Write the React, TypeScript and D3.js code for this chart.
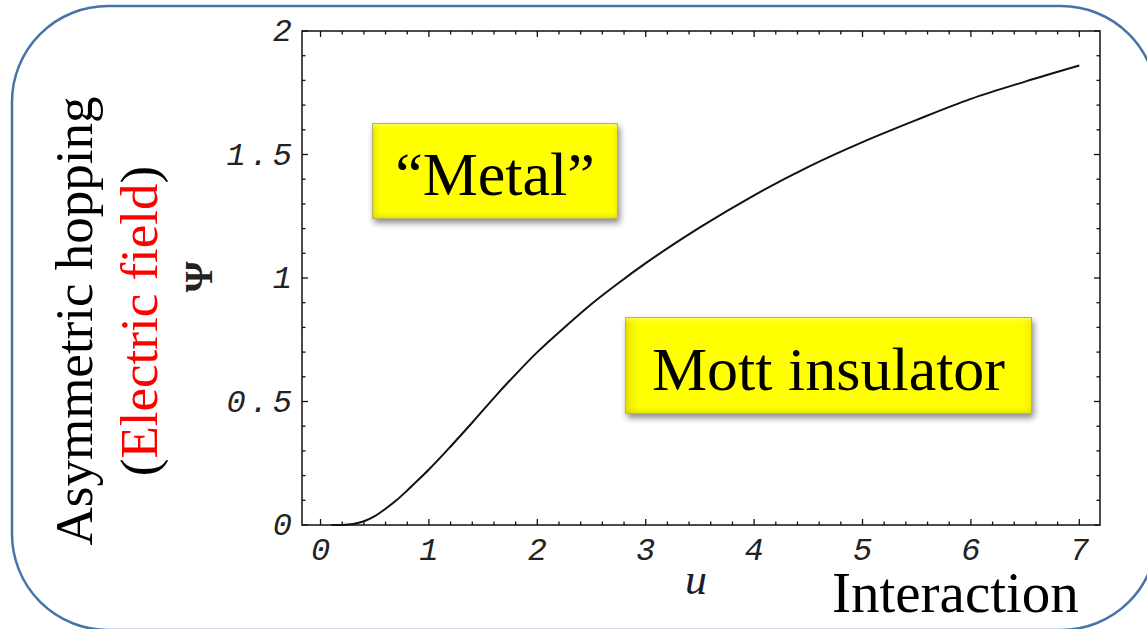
import React from 'react';
import * as d3 from 'd3';

// Ψ(u) curve: interaction strength u vs asymmetric hopping Ψ
const uValues = [0.1, 0.2, 0.3, 0.4, 0.5, 0.6, 0.7, 0.8, 0.9, 1.0, 1.2, 1.4, 1.6, 1.8, 2.0, 2.25, 2.5, 2.75, 3.0, 3.5, 4.0, 4.5, 5.0, 5.5, 6.0, 6.5, 7.0];
const psiValues = [0, 0.0005, 0.004, 0.015, 0.036, 0.066, 0.1, 0.14, 0.182, 0.225, 0.318, 0.415, 0.515, 0.61, 0.7, 0.8, 0.895, 0.98, 1.06, 1.205, 1.335, 1.45, 1.55, 1.64, 1.725, 1.795, 1.86];

const xMajorTicks = [0, 1, 2, 3, 4, 5, 6, 7];
const xTickLabels = ['0', '1', '2', '3', '4', '5', '6', '7'];
const yMajorTicks = [0, 0.5, 1, 1.5, 2];
const yTickLabels = ['0', '0.5', '1', '1.5', '2'];

const W = 1147;
const H = 629;
const frame = { left: 302, right: 1100, top: 31, bottom: 525 };

const tickFont = {
  fontFamily: '"Liberation Mono", "DejaVu Sans Mono", monospace',
  fontStyle: 'italic' as const,
  fontSize: 32,
  letterSpacing: 4,
  fill: '#222',
};

const serif = '"Liberation Serif", "Times New Roman", serif';

function YellowBox({ x, y, w, h, label, fontSize, baseline }: { x: number; y: number; w: number; h: number; label: string; fontSize: number; baseline: number }) {
  return (
    <g>
      <rect x={x} y={y} width={w} height={h} fill="#ffff00" filter="url(#boxShadow)" />
      <rect x={x} y={y} width={w} height={h} fill="url(#bevelH)" />
      <rect x={x} y={y} width={w} height={h} fill="url(#bevelV)" />
      <rect x={x + 0.5} y={y + 0.5} width={w - 1} height={h - 1} fill="none" stroke="#b4b46a" strokeWidth={1} />
      <text x={x + w / 2} y={y + baseline} textAnchor="middle" fontFamily={serif} fontSize={fontSize} fill="#000">
        {label}
      </text>
    </g>
  );
}

export default function App() {
  const x = d3.scaleLinear().domain([-0.171, 7.191]).range([frame.left, frame.right]);
  const y = d3.scaleLinear().domain([0, 2]).range([frame.bottom, frame.top]);

  const near = (a: number, list: number[]) => list.some((m) => Math.abs(m - a) < 1e-6);
  const xMinor = d3.range(0, 36).map((i) => i * 0.2).filter((v) => v <= 7.0001 && !near(v, xMajorTicks));
  const yMinor = d3.range(0, 21).map((i) => i * 0.1).filter((v) => !near(v, yMajorTicks));

  const line = d3
    .line<number>()
    .x((_, i) => x(uValues[i]))
    .y((d) => y(d))
    .curve(d3.curveMonotoneX);

  const major = 6;
  const minor = 3.5;
  const tickStroke = { stroke: '#111', strokeWidth: 1.3 };

  return (
    <svg width={W} height={H} style={{ position: 'absolute', left: 0, top: 0, background: '#fff' }}>
      <defs>
        <filter id="boxShadow" x="-10%" y="-20%" width="125%" height="150%">
          <feDropShadow dx={2} dy={4} stdDeviation={3} floodColor="#000" floodOpacity={0.45} />
        </filter>
        <linearGradient id="bevelH" x1="0" x2="1" y1="0" y2="0">
          <stop offset="0" stopColor="#c8b400" stopOpacity={0.5} />
          <stop offset="0.04" stopColor="#ffff00" stopOpacity={0} />
          <stop offset="0.97" stopColor="#ffff00" stopOpacity={0} />
          <stop offset="1" stopColor="#c8b400" stopOpacity={0.3} />
        </linearGradient>
        <linearGradient id="bevelV" x1="0" x2="0" y1="0" y2="1">
          <stop offset="0" stopColor="#ffffc0" stopOpacity={0.6} />
          <stop offset="0.08" stopColor="#ffff00" stopOpacity={0} />
          <stop offset="0.9" stopColor="#ffff00" stopOpacity={0} />
          <stop offset="1" stopColor="#b4a800" stopOpacity={0.35} />
        </linearGradient>
      </defs>

      {/* rounded panel outline */}
      <rect x={12} y={6} width={1145} height={624} rx={96} ry={96} fill="none" stroke="#4674a9" strokeWidth={2.5} />

      {/* plot frame */}
      <rect
        x={frame.left}
        y={frame.top}
        width={frame.right - frame.left}
        height={frame.bottom - frame.top}
        fill="none"
        stroke="#111"
        strokeWidth={1.5}
      />

      {/* frame ticks: bottom & top */}
      {xMajorTicks.map((v) => (
        <g key={`xM${v}`}>
          <line x1={x(v)} x2={x(v)} y1={frame.bottom} y2={frame.bottom - major} {...tickStroke} />
          <line x1={x(v)} x2={x(v)} y1={frame.top} y2={frame.top + major} {...tickStroke} />
        </g>
      ))}
      {xMinor.map((v) => (
        <g key={`xm${v.toFixed(1)}`}>
          <line x1={x(v)} x2={x(v)} y1={frame.bottom} y2={frame.bottom - minor} {...tickStroke} />
          <line x1={x(v)} x2={x(v)} y1={frame.top} y2={frame.top + minor} {...tickStroke} />
        </g>
      ))}

      {/* frame ticks: left & right */}
      {yMajorTicks.map((v) => (
        <g key={`yM${v}`}>
          <line x1={frame.left} x2={frame.left + major} y1={y(v)} y2={y(v)} {...tickStroke} />
          <line x1={frame.right} x2={frame.right - major} y1={y(v)} y2={y(v)} {...tickStroke} />
        </g>
      ))}
      {yMinor.map((v) => (
        <g key={`ym${v.toFixed(1)}`}>
          <line x1={frame.left} x2={frame.left + minor} y1={y(v)} y2={y(v)} {...tickStroke} />
          <line x1={frame.right} x2={frame.right - minor} y1={y(v)} y2={y(v)} {...tickStroke} />
        </g>
      ))}

      {/* tick labels */}
      {xMajorTicks.map((v, i) => (
        <text key={`xl${v}`} x={x(v) + tickFont.letterSpacing / 2} y={560} textAnchor="middle" {...tickFont}>
          {xTickLabels[i]}
        </text>
      ))}
      {yMajorTicks.map((v, i) => (
        <text key={`yl${v}`} x={frame.left - 10 + tickFont.letterSpacing} y={y(v) + 10} textAnchor="end" {...tickFont}>
          {yTickLabels[i]}
        </text>
      ))}

      {/* data curve */}
      <path d={line(psiValues) ?? ''} fill="none" stroke="#111" strokeWidth={2} />

      {/* region labels */}
      <YellowBox x={372} y={123} w={246} h={96} label={'\u201cMetal\u201d'} fontSize={62} baseline={72} />
      <YellowBox x={625} y={317} w={407} h={97} label="Mott insulator" fontSize={62} baseline={73} />

      {/* axis symbols */}
      <text transform="translate(198,277) rotate(-90)" textAnchor="middle" dominantBaseline="central" fontFamily={serif} fontWeight="bold" fontSize={40} fill="#222">
        Ψ
      </text>
      <text x={696} y={594} textAnchor="middle" fontFamily={serif} fontStyle="italic" fontSize={44} fill="#1a1a30">
        u
      </text>

      {/* descriptive axis titles */}
      <text x={832} y={612} fontFamily={serif} fontSize={57} fill="#000">
        Interaction
      </text>
      <text transform="translate(92,321) rotate(-90)" textAnchor="middle" fontFamily={serif} fontSize={53} fill="#000">
        Asymmetric hopping
      </text>
      <text transform="translate(157,321) rotate(-90)" textAnchor="middle" fontFamily={serif} fontSize={53} fill="#000">
        (<tspan fill="#ff0000">Electric field</tspan>)
      </text>
    </svg>
  );
}
